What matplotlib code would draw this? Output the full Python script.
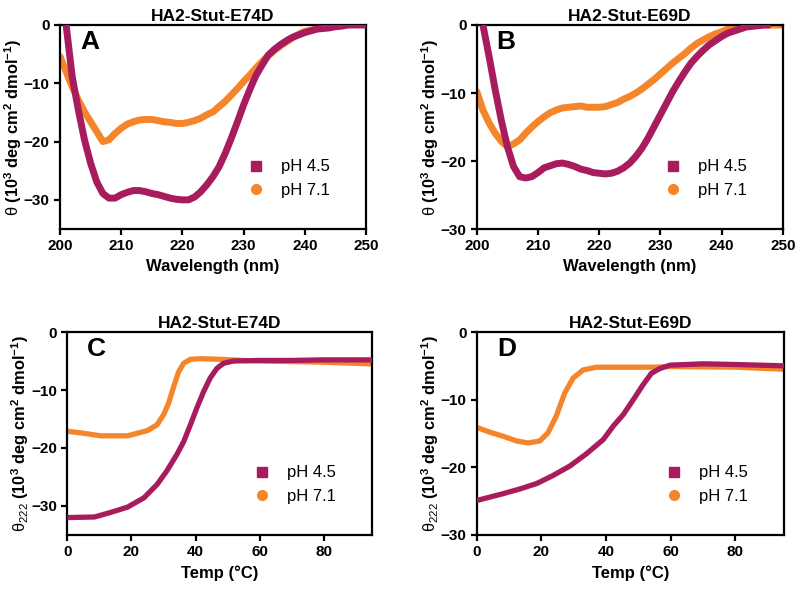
import numpy as np
import matplotlib
matplotlib.use('Agg')
import matplotlib.pyplot as plt
from matplotlib.lines import Line2D

plt.rcParams['font.family'] = ['Liberation Sans', 'DejaVu Sans']
plt.rcParams['mathtext.fontset'] = 'custom'
plt.rcParams['mathtext.rm'] = 'Liberation Sans'
plt.rcParams['mathtext.bf'] = 'Liberation Sans:bold'
plt.rcParams['mathtext.it'] = 'Liberation Sans:italic'

MAG = '#A81C5E'
ORG = '#F5852A'

# ---- CD spectra (panels A, B) ----
wl_a45 = list(range(201, 251))
cd_a45 = [0, -8.9, -14.6, -19.7, -23.7, -26.9, -28.9, -29.7, -29.7, -29.1,
          -28.7, -28.4, -28.4, -28.6, -28.9, -29.1, -29.4, -29.7, -29.9, -30.0,
          -30.0, -29.5, -28.6, -27.4, -26.0, -24.3, -22.0, -19.4, -16.6, -13.7,
          -11.1, -8.7, -6.9, -5.2, -4.2, -3.4, -2.7, -2.1, -1.7, -1.3,
          -1.0, -0.7, -0.6, -0.5, -0.3, -0.2, 0, 0, 0, 0]
wl_a71 = list(range(200, 248))
cd_a71 = [-5.4, -8.0, -10.6, -12.9, -14.9, -16.6, -18.3, -20.0, -19.7, -18.6,
          -17.7, -17.0, -16.6, -16.3, -16.2, -16.2, -16.4, -16.6, -16.7, -16.9,
          -16.9, -16.7, -16.4, -16.0, -15.4, -14.9, -14.0, -13.1, -12.0, -10.9,
          -9.7, -8.6, -7.4, -6.3, -5.3, -4.4, -3.6, -2.9, -2.2, -1.6,
          -1.1, -0.9, -0.6, -0.4, -0.3, -0.1, 0, 0]

wl_b45 = list(range(201, 249))
cd_b45 = [0, -4.6, -9.5, -14.0, -17.9, -20.8, -22.3, -22.5, -22.3, -21.7,
          -21.0, -20.7, -20.4, -20.3, -20.5, -20.8, -21.2, -21.4, -21.7, -21.8,
          -21.9, -21.8, -21.5, -21.0, -20.3, -19.3, -18.1, -16.6, -14.9, -13.2,
          -11.5, -9.8, -8.3, -6.9, -5.6, -4.6, -3.7, -2.9, -2.3, -1.7,
          -1.2, -0.9, -0.6, -0.3, -0.2, -0.1, 0, 0]
wl_b71 = list(range(200, 251))
cd_b71 = [-9.8, -12.5, -14.4, -15.9, -17.1, -17.9, -17.5, -16.9, -15.9, -15.0,
          -14.2, -13.5, -12.9, -12.5, -12.2, -12.1, -12.0, -11.9, -12.1, -12.1,
          -12.1, -12.0, -11.7, -11.4, -10.9, -10.5, -10.0, -9.4, -8.7, -8.0,
          -7.2, -6.4, -5.6, -4.9, -4.2, -3.4, -2.7, -2.2, -1.7, -1.3,
          -1.0, -0.6, -0.4, -0.2, -0.1, 0, 0, 0, 0, 0, 0]

# ---- thermal melts (panels C, D) ----
t_c45 = [0, 8.5, 13.6, 18.8, 23.9, 28, 31, 34.2, 36.3, 38.4, 40.4, 42.5, 44.5,
         46.6, 48.7, 51.8, 60, 70, 80, 95]
th_c45 = [-32.0, -31.9, -31.1, -30.2, -28.6, -26.3, -24.0, -21.1, -18.9, -16.0,
          -13.1, -10.3, -8.0, -6.3, -5.4, -5.0, -4.9, -4.9, -4.8, -4.8]
t_c71 = [0, 4.3, 10.5, 18.8, 25, 28, 30, 31.6, 33.2, 34.7, 36.3, 38.4, 41.4,
         47.6, 54.8, 60, 70, 80, 95]
th_c71 = [-17.1, -17.4, -17.9, -17.9, -17.0, -16.0, -14.3, -12.3, -9.4, -6.9,
          -5.4, -4.7, -4.6, -4.7, -4.9, -5.0, -5.1, -5.2, -5.5]

t_d45 = [0, 8.1, 13.3, 18.5, 23.6, 28.8, 33.9, 39.1, 42.2, 45.3, 48.4, 51.4,
         54, 56.6, 59.7, 70, 80, 95]
th_d45 = [-24.9, -23.9, -23.2, -22.4, -21.2, -19.8, -18.0, -15.9, -13.9, -12.2,
          -10.0, -7.8, -6.1, -5.4, -4.9, -4.7, -4.8, -5.0]
t_d71 = [0, 4, 8.1, 12.3, 15.9, 19.5, 22, 24.6, 27.2, 29.8, 32.9, 37, 44.2,
         54.5, 60, 80, 95]
th_d71 = [-14.1, -14.8, -15.4, -16.1, -16.4, -16.1, -14.9, -12.4, -9.0, -6.8,
          -5.6, -5.2, -5.2, -5.2, -5.1, -5.2, -5.5]

titles = ['HA2-Stut-E74D', 'HA2-Stut-E69D', 'HA2-Stut-E74D', 'HA2-Stut-E69D']
letters = ['A', 'B', 'C', 'D']

ylab_cd = r'$\mathrm{θ}$ (10$^{\mathbf{3}}$ deg cm$^{\mathbf{2}}$ dmol$^{\mathbf{-1}}$)'
ylab_tm = r'$\mathrm{θ_{222}}$ (10$^{\mathbf{3}}$ deg cm$^{\mathbf{2}}$ dmol$^{\mathbf{-1}}$)'

fig = plt.figure(figsize=(8, 5.91), dpi=100)
axA = fig.add_axes([0.075, 0.6125, 0.3825, 0.3452])
axB = fig.add_axes([0.596, 0.6125, 0.3825, 0.3452])
axC = fig.add_axes([0.084, 0.0948, 0.381, 0.3434])
axD = fig.add_axes([0.596, 0.0948, 0.384, 0.3434])
axes = [axA, axB, axC, axD]

series = [
    (wl_a45, cd_a45, wl_a71, cd_a71, 5.0),
    (wl_b45, cd_b45, wl_b71, cd_b71, 5.0),
    (t_c45, th_c45, t_c71, th_c71, 3.8),
    (t_d45, th_d45, t_d71, th_d71, 3.8),
]

for i, ax in enumerate(axes):
    x1, y1, x2, y2, lw = series[i]
    ax.plot(x2, y2, color=ORG, lw=lw, solid_capstyle='round', solid_joinstyle='round', zorder=2)
    ax.plot(x1, y1, color=MAG, lw=lw, solid_capstyle='butt', solid_joinstyle='round', zorder=3)

    if i < 2:
        ax.set_xlim(200, 250)
        ax.set_xticks([200, 210, 220, 230, 240, 250])
        ax.set_xlabel('Wavelength (nm)', fontsize=12, fontweight='bold')
        ax.set_ylabel(ylab_cd, fontsize=11.8, fontweight='bold', labelpad=0)
    else:
        ax.set_xlim(0, 95)
        ax.set_xticks([0, 20, 40, 60, 80])
        ax.set_xlabel('Temp (°C)', fontsize=12, fontweight='bold')
        ax.set_ylabel(ylab_tm, fontsize=11.8, fontweight='bold', labelpad=0)

    if i in (0, 2):
        ax.set_ylim(-35, 0)
    else:
        ax.set_ylim(-30, 0)
    ax.set_yticks([0, -10, -20, -30])

    for s in ax.spines.values():
        s.set_linewidth(1.6)
    ax.tick_params(direction='out', length=4, width=1.6, labelsize=11)
    for lab in ax.get_xticklabels() + ax.get_yticklabels():
        lab.set_fontweight('bold')

    ax.set_title(titles[i], fontsize=12.5, fontweight='bold', pad=3)
    ax.text(0.065, 0.975, letters[i], transform=ax.transAxes, fontsize=19,
            fontweight='bold', va='top', ha='left')

    handles = [Line2D([], [], ls='none', marker='s', ms=7, color=MAG),
               Line2D([], [], ls='none', marker='o', ms=7, color=ORG)]
    ax.legend(handles, ['pH 4.5', 'pH 7.1'], loc='lower right', frameon=False,
              fontsize=12, bbox_to_anchor=(0.93, 0.08), handlelength=1.0,
              handletextpad=1.0, labelspacing=0.5)

fig.savefig('out.png', dpi=100)
